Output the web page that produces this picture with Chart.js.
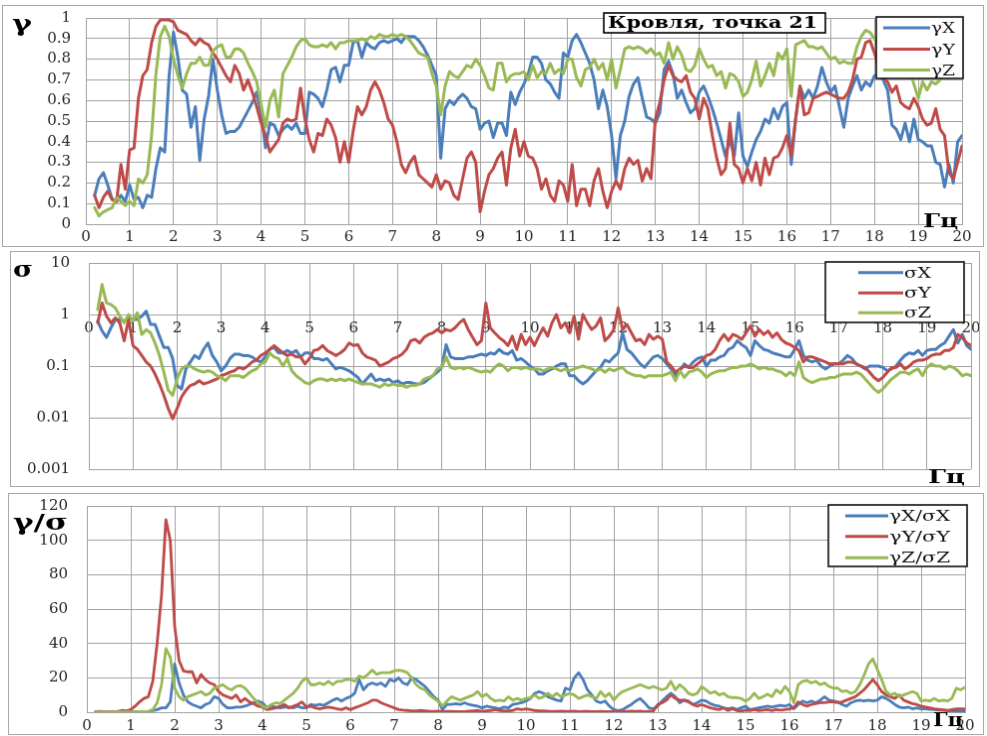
<!DOCTYPE html>
<html>
<head>
<meta charset="utf-8">
<script src="https://cdn.jsdelivr.net/npm/chart.js@4.4.1/dist/chart.umd.min.js"></script>
<style>
  html, body { margin: 0; padding: 0; background: #fff; width: 987px; height: 736px; overflow: hidden; position: relative; }
  canvas { position: absolute; border: 1px solid #a8a8a8; background: #fff; }
</style>
</head>
<body>
<canvas id="gamma" width="982" height="242" style="left:2px;top:5px"></canvas>
<canvas id="sigma" width="970" height="236" style="left:10px;top:251px"></canvas>
<canvas id="ratio" width="976" height="242" style="left:8px;top:493px"></canvas>
<script>
// Frequency grid, Hz (0.2 ... 20.0 with 0.1 Hz resolution)
const freqHz = Array.from({ length: 199 }, (_, i) => Math.round((0.2 + i * 0.1) * 10) / 10);

// Coherence γ
const gammaX = [
  0.14,0.22,0.25,0.19,0.12,0.11,0.14,0.11,0.19,
  0.12,0.13,0.08,0.14,0.13,0.27,0.37,0.35,0.72,0.93,
  0.81,0.65,0.63,0.47,0.57,0.31,0.51,0.62,0.80,0.65,
  0.53,0.44,0.45,0.45,0.47,0.51,0.55,0.59,0.64,0.54,
  0.37,0.49,0.48,0.43,0.46,0.48,0.46,0.49,0.44,0.44,
  0.64,0.63,0.61,0.57,0.65,0.75,0.76,0.69,0.77,0.77,
  0.88,0.89,0.81,0.88,0.86,0.85,0.88,0.89,0.88,0.89,
  0.90,0.88,0.91,0.91,0.91,0.89,0.86,0.82,0.77,0.72,
  0.32,0.56,0.60,0.58,0.61,0.63,0.61,0.57,0.56,0.46,
  0.49,0.50,0.42,0.49,0.49,0.43,0.64,0.58,0.64,0.68,
  0.73,0.81,0.81,0.78,0.70,0.68,0.64,0.61,0.83,0.81,
  0.89,0.92,0.88,0.83,0.78,0.70,0.56,0.65,0.57,0.43,
  0.22,0.43,0.50,0.62,0.68,0.71,0.61,0.52,0.51,0.49,
  0.54,0.75,0.79,0.73,0.61,0.65,0.59,0.54,0.56,0.64,
  0.67,0.62,0.56,0.49,0.41,0.33,0.41,0.33,0.54,0.33,
  0.28,0.35,0.41,0.45,0.51,0.49,0.56,0.51,0.57,0.59,
  0.29,0.51,0.67,0.61,0.65,0.61,0.67,0.76,0.69,0.64,
  0.67,0.57,0.47,0.61,0.67,0.72,0.65,0.69,0.67,0.72,
  0.72,0.70,0.65,0.48,0.46,0.41,0.49,0.40,0.51,0.41,
  0.40,0.38,0.38,0.30,0.29,0.18,0.29,0.20,0.40,0.43
];
const gammaY = [
  0.14,0.08,0.13,0.16,0.12,0.11,0.29,0.17,0.36,
  0.37,0.61,0.72,0.75,0.88,0.96,0.99,0.99,0.99,0.98,
  0.94,0.93,0.92,0.89,0.87,0.90,0.88,0.87,0.83,0.80,
  0.76,0.72,0.69,0.77,0.73,0.65,0.70,0.64,0.57,0.49,
  0.43,0.35,0.38,0.41,0.49,0.51,0.50,0.51,0.66,0.51,
  0.41,0.35,0.44,0.43,0.51,0.48,0.42,0.30,0.40,0.30,
  0.45,0.57,0.53,0.57,0.65,0.69,0.65,0.59,0.51,0.48,
  0.40,0.29,0.25,0.30,0.33,0.24,0.22,0.20,0.18,0.24,
  0.17,0.21,0.20,0.14,0.12,0.22,0.32,0.35,0.30,0.06,
  0.16,0.24,0.27,0.32,0.35,0.19,0.37,0.46,0.33,0.40,
  0.33,0.32,0.27,0.17,0.22,0.14,0.11,0.21,0.19,0.11,
  0.29,0.09,0.17,0.17,0.09,0.21,0.27,0.16,0.08,0.16,
  0.21,0.17,0.27,0.32,0.29,0.31,0.21,0.27,0.22,0.51,
  0.59,0.70,0.77,0.72,0.70,0.69,0.72,0.64,0.61,0.51,
  0.61,0.56,0.43,0.32,0.24,0.27,0.49,0.29,0.27,0.20,
  0.27,0.21,0.30,0.19,0.32,0.24,0.32,0.33,0.37,0.43,
  0.33,0.51,0.67,0.53,0.54,0.61,0.62,0.63,0.64,0.63,
  0.62,0.61,0.61,0.64,0.70,0.80,0.81,0.88,0.89,0.83,
  0.76,0.71,0.69,0.64,0.67,0.59,0.57,0.56,0.61,0.57,
  0.51,0.48,0.49,0.56,0.46,0.43,0.25,0.22,0.30,0.38
];
const gammaZ = [
  0.08,0.04,0.06,0.07,0.08,0.13,0.11,0.09,0.11,
  0.09,0.22,0.20,0.24,0.43,0.73,0.91,0.96,0.91,0.80,
  0.72,0.66,0.73,0.78,0.78,0.81,0.77,0.77,0.84,0.86,
  0.87,0.81,0.81,0.85,0.85,0.83,0.78,0.74,0.69,0.58,
  0.47,0.60,0.65,0.52,0.73,0.77,0.81,0.86,0.89,0.90,
  0.87,0.86,0.86,0.87,0.86,0.88,0.85,0.88,0.88,0.89,
  0.89,0.89,0.90,0.89,0.91,0.90,0.92,0.91,0.91,0.92,
  0.91,0.92,0.91,0.89,0.86,0.83,0.82,0.81,0.73,0.67,
  0.53,0.67,0.74,0.72,0.71,0.74,0.77,0.76,0.80,0.77,
  0.72,0.66,0.65,0.78,0.78,0.69,0.72,0.73,0.73,0.74,
  0.70,0.77,0.71,0.74,0.73,0.78,0.73,0.75,0.73,0.80,
  0.80,0.71,0.67,0.75,0.76,0.80,0.75,0.78,0.70,0.80,
  0.66,0.75,0.85,0.86,0.85,0.86,0.85,0.83,0.85,0.82,
  0.83,0.78,0.88,0.80,0.86,0.82,0.75,0.74,0.77,0.85,
  0.80,0.76,0.77,0.72,0.74,0.66,0.73,0.72,0.69,0.62,
  0.64,0.70,0.79,0.67,0.72,0.78,0.72,0.83,0.80,0.85,
  0.62,0.87,0.88,0.89,0.86,0.86,0.85,0.86,0.83,0.80,
  0.81,0.78,0.79,0.78,0.78,0.86,0.91,0.94,0.93,0.90,
  0.85,0.80,0.78,0.80,0.78,0.76,0.72,0.74,0.68,0.61,
  0.69,0.65,0.69,0.68,0.70,0.74,0.78,0.80,0.82,0.83
];

// σ (logarithmic panel)
const sigmaX = [
  0.74,0.48,0.36,0.55,0.8,0.8,0.74,0.86,0.8,
  0.8,0.93,1.16,0.64,0.64,0.38,0.23,0.23,0.14,0.042,
  0.036,0.088,0.12,0.16,0.14,0.21,0.28,0.16,0.12,0.081,
  0.1,0.14,0.17,0.17,0.16,0.16,0.15,0.13,0.12,0.15,
  0.21,0.23,0.18,0.18,0.2,0.18,0.2,0.15,0.18,0.18,
  0.14,0.14,0.13,0.14,0.11,0.088,0.094,0.088,0.081,0.07,
  0.06,0.045,0.056,0.07,0.052,0.056,0.052,0.056,0.048,0.052,
  0.045,0.048,0.048,0.045,0.045,0.048,0.056,0.065,0.076,0.094,
  0.26,0.15,0.14,0.14,0.14,0.15,0.15,0.16,0.17,0.16,
  0.18,0.17,0.21,0.18,0.17,0.2,0.13,0.14,0.12,0.1,
  0.088,0.07,0.07,0.081,0.088,0.1,0.11,0.11,0.065,0.065,
  0.052,0.045,0.052,0.065,0.081,0.094,0.13,0.12,0.15,0.18,
  0.44,0.21,0.18,0.14,0.11,0.094,0.12,0.15,0.16,0.14,
  0.11,0.088,0.065,0.081,0.11,0.094,0.12,0.14,0.15,0.1,
  0.13,0.13,0.15,0.16,0.21,0.23,0.31,0.26,0.23,0.16,
  0.31,0.25,0.21,0.2,0.18,0.17,0.16,0.15,0.15,0.21,
  0.31,0.16,0.13,0.12,0.13,0.1,0.088,0.1,0.11,0.11,
  0.13,0.16,0.14,0.11,0.1,0.088,0.1,0.1,0.1,0.094,
  0.081,0.088,0.1,0.13,0.16,0.18,0.17,0.2,0.16,0.2,
  0.21,0.21,0.25,0.28,0.38,0.51,0.28,0.41,0.25,0.21
];
const sigmaY = [
  0.69,1.67,0.93,0.69,0.86,0.69,0.31,0.8,0.25,
  0.21,0.16,0.12,0.1,0.07,0.045,0.027,0.015,0.0095,0.015,
  0.025,0.034,0.042,0.045,0.052,0.045,0.048,0.052,0.056,0.065,
  0.07,0.076,0.081,0.094,0.088,0.1,0.12,0.13,0.16,0.18,
  0.21,0.25,0.21,0.18,0.16,0.17,0.15,0.15,0.11,0.14,
  0.2,0.21,0.25,0.2,0.18,0.16,0.18,0.21,0.28,0.25,
  0.26,0.18,0.15,0.14,0.13,0.1,0.11,0.12,0.14,0.15,
  0.17,0.21,0.31,0.33,0.28,0.36,0.41,0.44,0.51,0.44,
  0.51,0.48,0.55,0.69,0.8,0.51,0.36,0.26,0.31,1.67,
  0.55,0.44,0.36,0.31,0.25,0.38,0.21,0.41,0.26,0.36,
  0.25,0.38,0.55,0.38,0.69,1.0,0.55,0.69,0.44,0.93,
  0.33,1.0,0.69,0.51,0.6,0.86,0.31,0.38,0.51,1.34,
  0.51,0.64,0.44,0.31,0.33,0.26,0.41,0.33,0.38,0.33,
  0.12,0.1,0.076,0.088,0.1,0.094,0.094,0.11,0.13,0.16,
  0.17,0.21,0.31,0.41,0.31,0.41,0.38,0.33,0.44,0.6,
  0.38,0.51,0.41,0.48,0.36,0.44,0.33,0.28,0.26,0.23,
  0.2,0.12,0.15,0.15,0.14,0.13,0.12,0.11,0.11,0.11,
  0.11,0.12,0.12,0.11,0.1,0.094,0.076,0.06,0.052,0.06,
  0.076,0.094,0.094,0.11,0.088,0.1,0.12,0.13,0.13,0.14,
  0.16,0.17,0.17,0.2,0.2,0.23,0.41,0.36,0.28,0.25
];
const sigmaZ = [
  1.25,3.8,1.67,1.56,1.34,0.93,0.69,1.0,0.74,
  1.08,0.41,0.51,0.44,0.28,0.16,0.076,0.034,0.027,0.056,
  0.088,0.1,0.1,0.088,0.081,0.076,0.081,0.076,0.065,0.06,
  0.052,0.065,0.065,0.065,0.06,0.07,0.081,0.088,0.11,0.12,
  0.18,0.15,0.14,0.1,0.14,0.081,0.065,0.056,0.048,0.045,
  0.052,0.056,0.056,0.052,0.056,0.052,0.056,0.052,0.056,0.052,
  0.048,0.045,0.045,0.045,0.042,0.039,0.045,0.042,0.045,0.042,
  0.042,0.039,0.042,0.042,0.045,0.056,0.06,0.065,0.088,0.094,
  0.15,0.094,0.088,0.094,0.088,0.094,0.088,0.081,0.076,0.081,
  0.076,0.094,0.11,0.1,0.081,0.094,0.094,0.088,0.094,0.088,
  0.088,0.088,0.081,0.088,0.094,0.088,0.081,0.088,0.081,0.088,
  0.094,0.1,0.094,0.088,0.081,0.088,0.076,0.088,0.081,0.088,
  0.094,0.076,0.07,0.065,0.065,0.06,0.065,0.065,0.065,0.065,
  0.07,0.076,0.052,0.081,0.06,0.076,0.081,0.088,0.076,0.06,
  0.07,0.076,0.081,0.081,0.088,0.094,0.094,0.1,0.1,0.11,
  0.1,0.088,0.094,0.088,0.088,0.081,0.076,0.065,0.076,0.065,
  0.12,0.06,0.052,0.048,0.052,0.056,0.056,0.06,0.06,0.065,
  0.07,0.07,0.07,0.076,0.07,0.056,0.045,0.036,0.031,0.036,
  0.045,0.056,0.065,0.076,0.076,0.07,0.081,0.088,0.065,0.094,
  0.11,0.1,0.1,0.088,0.1,0.094,0.081,0.065,0.07,0.065
];

// γ/σ
const ratioX = [
  0.2,0.3,0.3,0.3,0.2,0.2,0.2,0.2,0.3,
  0.2,0.2,0.1,0.2,1,1.5,2.5,2.5,6,28,
  17,10,6,4.5,3.5,2.5,4.5,5.5,9,8,
  4.5,2.5,2.5,3,3,3.5,4.5,5.5,6.5,5.5,
  2.5,3.5,3,2.5,3,3,2.5,3.5,2.5,2.5,
  4.5,4,4.5,4,5.5,7,8,6.5,8,9,
  11,19,13,16,17,16,17,15,19,18,
  20,17,16,20,19,17,15,12,9,7,
  1.5,4.5,4.5,5,4.5,5.5,4.5,4,3.5,2.5,
  3.5,3,2.5,2,3,2.5,4.5,5,5.5,6.5,
  8,11,12,11,9,8,7,6.5,14,13,
  20,23,19,13,10,6.5,5.5,6.5,3.5,1.5,
  1,1.5,3,4.5,6.5,8,5.5,2.5,2,3.5,
  6.5,9,11,9,5.5,7,6.5,4.5,5.5,7,
  6.5,5,4,3.5,2.5,2,2.5,1.5,2.5,3.5,
  1.5,2,2.5,3,3.5,3,3.5,4,3.5,4.5,
  2,4.5,6.5,5.5,6.5,5.5,7,9,7,6.5,
  6,4.5,3.5,5.5,6.5,7,6.5,7,6.5,7,
  9,8,6.5,4.5,3,2.5,3,2,2.5,2,
  2,1.7,1.5,1.3,1.2,1,0.8,1,0.6,0.6
];
const ratioY = [
  0.3,0.5,0.4,0.4,0.3,0.5,1,0.8,1.5,
  3.5,6,8,9,18,40,68,112,100,50,
  30,24,23.5,23.5,17,22,19,17,16,12,
  10,9,8,10,6,8,6,5,3.5,3,
  1.5,2,2.5,3.5,4.5,2.5,3.5,4.5,6,3,
  3.5,2.5,2,2.5,3,2.5,2,1.5,2.5,1.5,
  2.5,3.5,4.5,5.5,7,7,5.5,4.5,3.5,2.5,
  1.5,1.2,1,0.8,0.8,1,0.8,0.6,0.5,0.6,
  0.4,0.5,0.5,0.4,0.3,0.4,0.6,0.8,1,0.5,
  0.8,1,1.5,1,0.8,0.8,1,2,1.5,2,
  1.5,1,0.8,0.8,0.6,0.5,0.5,0.6,0.5,0.5,
  0.6,0.4,0.5,0.5,0.4,0.4,0.5,0.4,0.3,0.4,
  0.4,0.3,0.5,0.6,0.5,0.6,0.4,0.5,0.6,4.5,
  5.5,7,10,8,7,7,6,4.5,3.5,4.5,
  3.5,2.5,2,1.5,2.5,1,2,1,0.6,1.2,
  1,1.5,1,1.2,1.5,1,1.5,1.2,1.5,2,
  2.5,6,4.5,3.5,4.5,5,5.5,5.5,6,6,
  5.5,6,7,8,9,11,13,16,19,16,
  12,10,9,8,10,7,6,5,4.5,3.5,
  3,2.5,2,1.7,1.3,1,1.5,2,2,2
];
const ratioZ = [
  0.1,0.2,0.2,0.2,0.2,0.2,0.2,0.2,0.2,
  0.2,0.3,0.3,0.5,1.5,5.5,16,37,32,14,
  9,7,9,10,11,12,10,11,14,15,
  16,14,13,15,15.5,14,11,8,5.5,3.5,
  2.5,4.5,5.5,5,7,9,11,14,18,20,
  16,16,17,16,18,16,18,18,19,19,
  18,21,20,22,24.5,22,23,23,23,24,
  24.5,24,23,20,16,14,13,10,8,6.5,
  3.5,6.5,9,8,7,8,9,10,12,9,
  10.5,8,6.5,7,6.5,9,7,8,7,8,
  8.5,10,8,9,11,9,11,9,10,11,
  10,8,9,10,9,8,12,9,11,7,
  10,12,13,14,15,16,15,14,15,14,
  13,14,18,13,16,14,11,10,11,15,
  13,11,12,10,11,9,8.5,8.5,8,6.5,
  8,11,8,9,10.5,9,13,11,15,12,
  5.5,16,18,18.5,17,18,16,17,15,14,
  14,12,12.5,11,12,16,21.5,28,31,25,
  19,12,10,11,9,10,11,12,11,6.5,
  7,6.5,8,6.5,7,6.5,8,14,13,14.5
];

// Axis ticks and labels
const sigmaTicks = [0.001, 0.01, 0.1, 1, 10];
const gammaLabels = ['γX', 'γY', 'γZ'];
const sigmaLabels = ['σX', 'σY', 'σZ'];
const ratioLabels = ['γX/σX', 'γY/σY', 'γZ/σZ'];
const chartTitle = 'Кровля, точка 21';
const freqUnit = 'Гц';

const COLORS = ['#4a7ebb', '#be4b48', '#98b954'];
const GRID = '#a2a2a2';
const TICK_FONT = { family: 'DejaVu Serif', size: 15 };
const TICK_COLOR = '#262626';

// Fixed axis sizes; label overflow padding is dropped so the plot area
// is defined only by layout padding and the axis sizes
function fixY(width) {
  return s => { s.width = width; s.paddingTop = 0; s.paddingBottom = 0; };
}
function fixX(height) {
  return s => { if (height !== null) s.height = height; s.paddingLeft = 0; s.paddingRight = 0; };
}

// Draws text so it spans the given width (horizontally scaled)
function fitText(ctx, text, x, y, width, font) {
  ctx.save();
  ctx.font = font;
  ctx.textAlign = 'left';
  ctx.textBaseline = 'alphabetic';
  const w = ctx.measureText(text).width;
  ctx.translate(x, y);
  ctx.scale(width / w, 1);
  ctx.fillText(text, 0, 0);
  ctx.restore();
}

// Axis symbols, title frame and in-plot legend (positions in page pixels)
const decor = {
  id: 'decor',
  afterDraw(chart, args, o) {
    const ctx = chart.ctx;
    const [ox, oy] = o.origin;
    ctx.save();
    ctx.fillStyle = '#000';
    (o.texts || []).forEach(t => fitText(ctx, t.text, t.x - ox, t.y - oy, t.w, t.font));
    if (o.box) {
      const b = o.box;
      ctx.fillStyle = '#fff';
      ctx.fillRect(b.x - ox, b.y - oy, b.w, b.h);
      ctx.strokeStyle = '#000';
      ctx.lineWidth = 1.6;
      ctx.strokeRect(b.x - ox, b.y - oy, b.w, b.h);
      ctx.fillStyle = '#000';
      fitText(ctx, b.text, b.tx - ox, b.ty - oy, b.tw, b.font);
    }
    if (o.legend) {
      const L = o.legend;
      ctx.fillStyle = '#fff';
      ctx.fillRect(L.x - ox, L.y - oy, L.w, L.h);
      ctx.strokeStyle = '#111';
      ctx.lineWidth = 1.6;
      ctx.strokeRect(L.x - ox, L.y - oy, L.w, L.h);
      chart.data.datasets.forEach((ds, i) => {
        const yy = L.rows[i] - oy;
        ctx.strokeStyle = ds.borderColor;
        ctx.lineWidth = 3;
        ctx.beginPath();
        ctx.moveTo(L.x0 - ox, yy);
        ctx.lineTo(L.x1 - ox, yy);
        ctx.stroke();
        ctx.fillStyle = '#111';
        fitText(ctx, ds.label, L.tx - ox, yy + 5, L.tw, L.font);
      });
    }
    ctx.restore();
  }
};

function series(labels, arrays, width) {
  return arrays.map((arr, i) => ({
    label: labels[i],
    data: freqHz.map((f, k) => ({ x: f, y: arr[k] })),
    borderColor: COLORS[i],
    backgroundColor: COLORS[i],
    borderWidth: width,
    pointRadius: 0,
    tension: 0,
    fill: false,
    borderJoinStyle: 'round',
    borderCapStyle: 'round',
    order: 2 - i
  }));
}

function xScale(extra, pad) {
  return Object.assign({
    type: 'linear', min: 0, max: 20,
    ticks: { stepSize: 1, autoSkip: false, maxRotation: 0, font: TICK_FONT, color: TICK_COLOR, padding: pad },
    grid: { color: GRID, drawTicks: false, lineWidth: 1 },
    border: { color: GRID }
  }, extra);
}

function yScale(extra) {
  return Object.assign({
    grid: { color: GRID, drawTicks: false },
    border: { color: GRID }
  }, extra);
}

function baseOptions(padding, scales, decorOpts) {
  return {
    responsive: false,
    animation: false,
    devicePixelRatio: 1,
    events: [],
    layout: { padding },
    scales,
    plugins: { legend: { display: false }, tooltip: { enabled: false }, decor: decorOpts }
  };
}

// Panel 1: coherence
new Chart(document.getElementById('gamma'), {
  type: 'line',
  data: { datasets: series(gammaLabels, [gammaX, gammaY, gammaZ], 3) },
  plugins: [decor],
  options: baseOptions({ left: 0, top: 12, right: 21, bottom: 0 }, {
    x: xScale({ afterFit: fixX(22) }, 4),
    y: yScale({
      type: 'linear', min: 0, max: 1,
      afterFit: fixY(83),
      ticks: { stepSize: 0.1, autoSkip: false, font: TICK_FONT, color: TICK_COLOR, padding: 15, callback: v => String(+v.toFixed(1)) }
    })
  }, {
    origin: [3, 6],
    texts: [
      { text: 'γ', x: 12, y: 31, w: 20, font: 'bold 22px "DejaVu Serif"' },
      { text: freqUnit, x: 925, y: 229, w: 35, font: 'bold 19px "DejaVu Serif"' }
    ],
    box: { x: 605, y: 13, w: 222, h: 20, text: chartTitle, tx: 609, ty: 28, tw: 210, font: 'bold 16px "DejaVu Serif"' },
    legend: { x: 878, y: 17, w: 87, h: 62, rows: [28, 49.5, 70.5], x0: 885, x1: 932, tx: 933, tw: 24, font: '15px "DejaVu Serif"' }
  })
});

// Panel 2: σ on a logarithmic axis, frequency labels along σ = 1
new Chart(document.getElementById('sigma'), {
  type: 'line',
  data: { datasets: series(sigmaLabels, [sigmaX, sigmaY, sigmaZ], 3) },
  plugins: [decor],
  options: baseOptions({ left: 0, top: 11, right: 8, bottom: 17 }, {
    x: xScale({ position: { y: 1 }, afterFit: fixX(null) }, 5),
    y: yScale({
      type: 'logarithmic', min: 0.001, max: 10,
      afterFit: fixY(78),
      afterBuildTicks(s) { s.ticks = sigmaTicks.map(v => ({ value: v })); },
      ticks: { autoSkip: false, font: TICK_FONT, color: TICK_COLOR, padding: 19, callback: v => String(v) }
    })
  }, {
    origin: [11, 252],
    texts: [
      { text: 'σ', x: 13, y: 277, w: 20, font: 'bold 22px "DejaVu Serif"' },
      { text: freqUnit, x: 930, y: 485, w: 37, font: 'bold 19px "DejaVu Serif"' }
    ],
    legend: { x: 827, y: 262, w: 139, h: 61, rows: [272.7, 293.3, 313.3], x0: 860, x1: 905, tx: 906, tw: 27, font: '15px "DejaVu Serif"' }
  })
});

// Panel 3: γ/σ
new Chart(document.getElementById('ratio'), {
  type: 'line',
  data: { datasets: series(ratioLabels, [ratioX, ratioY, ratioZ], 2.8) },
  plugins: [decor],
  options: baseOptions({ left: 0, top: 12, right: 18, bottom: 0 }, {
    x: xScale({ afterFit: fixX(22) }, 5),
    y: yScale({
      type: 'linear', min: 0, max: 120,
      afterFit: fixY(78),
      ticks: { stepSize: 20, autoSkip: false, font: TICK_FONT, color: TICK_COLOR, padding: 19 }
    })
  }, {
    origin: [9, 494],
    texts: [
      { text: 'γ/σ', x: 13, y: 530, w: 55, font: 'bold 22px "DejaVu Serif"' },
      { text: freqUnit, x: 935, y: 728, w: 30, font: 'bold 19px "DejaVu Serif"' }
    ],
    legend: { x: 830, y: 505, w: 139, h: 62, rows: [516, 536.7, 558.3], x0: 847, x1: 890, tx: 891, tw: 61, font: '15px "DejaVu Serif"' }
  })
});
</script>
</body>
</html>
